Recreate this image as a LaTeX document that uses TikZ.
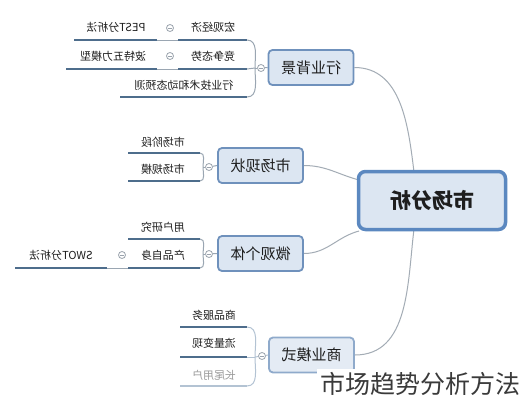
\documentclass[tikz,border=0pt]{standalone}
\usepackage{fontspec}
\usepackage{graphicx}
\newfontfamily\cjk{Noto Sans CJK SC}
\usetikzlibrary{backgrounds}
\definecolor{nodefill}{HTML}{DCE6F2}
\definecolor{nodefillb}{HTML}{E4EBF4}
\definecolor{rootline}{HTML}{5B88C0}
\definecolor{topline}{HTML}{6F91BC}
\definecolor{toplineb}{HTML}{8FAACB}
\definecolor{ulc}{HTML}{4E6D8C}
\definecolor{ulcb}{HTML}{B3C3D3}
\definecolor{brc}{HTML}{9AA6B2}
\definecolor{mc}{HTML}{A3ACB5}
\definecolor{tc}{HTML}{9AA3AD}
\definecolor{txt}{HTML}{1E1E1E}
\definecolor{txtb}{HTML}{9A9A9A}
\definecolor{wm}{HTML}{3A3A3A}
\tikzset{
  root/.style={draw=rootline, line width=3.5pt, fill=nodefill, rounded corners=7pt,
    minimum width=147pt, minimum height=58pt, inner sep=0pt, text=txt,
    font=\cjk\bfseries\fontsize{21}{21}\selectfont},
  topic/.style={draw=topline, line width=1.8pt, fill=nodefill, rounded corners=4pt,
    minimum width=85pt, minimum height=35pt, inner sep=0pt, text=txt,
    font=\cjk\fontsize{15}{15}\selectfont},
  sub/.style={inner sep=0pt, text=txt, font=\cjk\fontsize{11}{11}\selectfont},
  uline/.style={draw=ulc, line width=2pt},
  thinl/.style={draw=brc, line width=0.8pt},
  br/.style={draw=brc, line width=1pt},
  mainc/.style={draw=mc, line width=1pt},
  tog/.style={circle, draw=tc, line width=0.8pt, minimum size=7pt, inner sep=0pt, fill=white,
    path picture={\draw[tc, line width=0.8pt]
      ([xshift=-2pt]path picture bounding box.center) -- ([xshift=2pt]path picture bounding box.center);}}
}
\begin{document}
\begin{tikzpicture}[x=1pt,y=-1pt]
\useasboundingbox (0,0) rectangle (523,400);
% nodes
\node[root] (cen) at (432,200.5) {\reflectbox{市场分析}};
\node[topic] (hy) at (311,67.5) {\reflectbox{行业背景}};
\node[topic] (xz) at (260.5,165.5) {\reflectbox{市场现状}};
\node[topic] (wg) at (260.5,253.5) {\reflectbox{微观个体}};
\node[topic, draw=toplineb, fill=nodefillb] (sy) at (311.5,355) {\reflectbox{商业模式}};
% sub topics
\node[sub] (a1) at (213,27) {\reflectbox{宏观经济}};
\node[sub] (a1x) at (116,27) {\reflectbox{PEST分析法}};
\node[sub] (a2) at (213,56) {\reflectbox{竞争态势}};
\node[sub] (a2x) at (113,56) {\reflectbox{波特五力模型}};
\node[sub] (a3) at (184,85) {\reflectbox{行业技术和动态预测}};
\node[sub] (b1) at (163,142) {\reflectbox{市场阶段}};
\node[sub] (b2) at (163,169) {\reflectbox{市场规模}};
\node[sub] (c1) at (163,227) {\reflectbox{用户研究}};
\node[sub] (c2) at (163,255) {\reflectbox{产品自身}};
\node[sub] (c2x) at (61,255) {\reflectbox{SWOT分析法}};
\node[sub] (d1) at (214,315) {\reflectbox{商品服务}};
\node[sub] (d2) at (214,343) {\reflectbox{流量变现}};
\node[sub, text=txtb] (d3) at (214,375) {\reflectbox{长尾用户}};
% toggles
\node[tog] (ta1) at (170,28) {};
\node[tog] (ta2) at (170,56) {};
\node[tog] (thy) at (261,68) {};
\node[tog] (txz) at (209,167) {};
\node[tog] (twg) at (209,254) {};
\node[tog] (tc2) at (122,255) {};
\node[tog] (tsy) at (262,356) {};
% coordinates
\coordinate (ka) at (414,172);
\coordinate (kb) at (359,180);
\coordinate (kc) at (359,231);
\coordinate (kd) at (414,229);
\coordinate (ja) at (255,68);
\coordinate (jb) at (203,167);
\coordinate (jc) at (203,254);
\coordinate (jd) at (255,357);
\coordinate (ua1l) at (178,40); \coordinate (ua1r) at (247,40);
\coordinate (ua1xl) at (74,40); \coordinate (ua1xr) at (157,40);
\coordinate (ua2l) at (178,69); \coordinate (ua2r) at (247,69);
\coordinate (ua2xl) at (66,69); \coordinate (ua2xr) at (157,69);
\coordinate (ua3l) at (120,97); \coordinate (ua3r) at (247,97);
\coordinate (ub1l) at (128,153); \coordinate (ub1r) at (200,153);
\coordinate (ub2l) at (128,181); \coordinate (ub2r) at (200,181);
\coordinate (uc1l) at (128,239); \coordinate (uc1r) at (200,239);
\coordinate (uc2l) at (128,268); \coordinate (uc2r) at (200,268);
\coordinate (uc2xl) at (15,268); \coordinate (uc2xr) at (107,268);
\coordinate (ud1l) at (180,327); \coordinate (ud1r) at (247,327);
\coordinate (ud2l) at (180,357); \coordinate (ud2r) at (247,357);
\coordinate (ud3l) at (180,386); \coordinate (ud3r) at (247,386);
\node[inner sep=3pt, fill=white, text=wm, font=\cjk\fontsize{25}{25}\selectfont] (wmk) at (420,384) {市场趋势分析方法};
\begin{scope}[on background layer]
\fill[white] (0,0) rectangle (523,400);
% main connectors
\draw[mainc] (hy.east) to[out=0,in=97] (ka);
\draw[mainc] (xz.east) to[out=0,in=165] (kb);
\draw[mainc] (wg.east) to[out=0,in=195] (kc);
\draw[mainc] (sy.east) to[out=0,in=-97] (kd);
% brackets
\draw[br] (thy) -- (hy.west);
\draw[br] (ja) -- (thy);
\draw[br] (ua1r) to[out=0,in=90] (ja);
\draw[br] (ua3r) to[out=0,in=-90] (ja);
\draw[br] (ua2r) -- (ja);
\draw[br] (txz) -- (xz.west);
\draw[br] (jb) -- (txz);
\draw[br] (ub1r) to[out=0,in=90] (jb);
\draw[br] (ub2r) to[out=0,in=-90] (jb);
\draw[br] (twg) -- (wg.west);
\draw[br] (jc) -- (twg);
\draw[br] (uc1r) to[out=0,in=90] (jc);
\draw[br] (uc2r) to[out=0,in=-90] (jc);
\draw[br, draw=ulcb] (tsy) -- (sy.west);
\draw[br, draw=ulcb] (jd) -- (tsy);
\draw[br, draw=ulcb] (ud1r) to[out=0,in=90] (jd);
\draw[br, draw=ulcb] (ud3r) to[out=0,in=-90] (jd);
\draw[br, draw=ulcb] (ud2r) -- (jd);
% thin links between underlines
\draw[thinl] (ua1xr) -- (ua1l);
\draw[thinl] (ua2xr) -- (ua2l);
\draw[thinl] (uc2xr) -- (uc2l);
% underlines
\draw[uline] (ua1l) -- (ua1r);
\draw[uline] (ua1xl) -- (ua1xr);
\draw[uline] (ua2l) -- (ua2r);
\draw[uline] (ua2xl) -- (ua2xr);
\draw[uline] (ua3l) -- (ua3r);
\draw[uline] (ub1l) -- (ub1r);
\draw[uline] (ub2l) -- (ub2r);
\draw[uline] (uc1l) -- (uc1r);
\draw[uline] (uc2l) -- (uc2r);
\draw[uline] (uc2xl) -- (uc2xr);
\draw[uline] (ud1l) -- (ud1r);
\draw[uline] (ud2l) -- (ud2r);
\draw[uline, draw=ulcb] (ud3l) -- (ud3r);
\end{scope}
\end{tikzpicture}
\end{document}
